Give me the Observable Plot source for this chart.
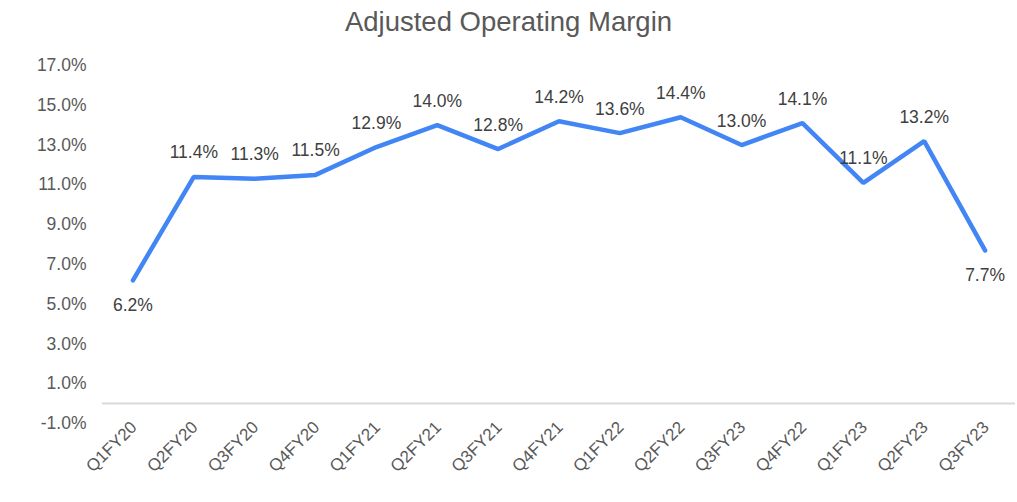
<!DOCTYPE html>
<html>
<head>
<meta charset="utf-8">
<script src="https://cdn.jsdelivr.net/npm/d3@7"></script>
<script src="https://cdn.jsdelivr.net/npm/@observablehq/plot@0.6"></script>
<style>
  body { margin: 0; background: #fff; font-family: "Liberation Sans", Arial, sans-serif; }
  #title { height: 44px; line-height: 44px; text-align: center; font-size: 27.5px; color: #595959; width: 1017px; }
</style>
</head>
<body>
<div id="title">Adjusted Operating Margin</div>
<div id="chart"></div>
<script>
const quarters = ["Q1FY20","Q2FY20","Q3FY20","Q4FY20","Q1FY21","Q2FY21","Q3FY21","Q4FY21","Q1FY22","Q2FY22","Q3FY23","Q4FY22","Q1FY23","Q2FY23","Q3FY23"];
const margins = [6.2, 11.4, 11.3, 11.5, 12.9, 14.0, 12.8, 14.2, 13.6, 14.4, 13.0, 14.1, 11.1, 13.2, 7.7];
const yTicks = [-1, 1, 3, 5, 7, 9, 11, 13, 15, 17];

const data = margins.map((v, i) => ({i, v}));
const fmt = v => v.toFixed(1) + "%";

const chart = Plot.plot({
  width: 1017,
  height: 458,
  marginTop: 21,
  marginBottom: 79,
  marginLeft: 102,
  marginRight: 2,
  style: {fontFamily: "'Liberation Sans', Arial, sans-serif", fontSize: "17px", color: "#595959", background: "#fff"},
  x: {type: "point", domain: d3.range(quarters.length), padding: 0.5, round: false, axis: null, label: null},
  y: {domain: [-1, 17], axis: null, label: null},
  marks: [
    Plot.axisY({ticks: yTicks, tickFormat: fmt, tickSize: 0, tickPadding: 16, fill: "#595959", fontSize: 17.5, label: null}),
    Plot.axisX({tickFormat: i => quarters[i], tickRotate: -45, tickSize: 0, tickPadding: 1, dx: 1, fill: "#595959", fontSize: 17, label: null}),
    Plot.ruleY([0], {stroke: "#d9d9d9", strokeWidth: 2}),
    Plot.line(data, {x: "i", y: "v", stroke: "#4285F4", strokeWidth: 4.5, strokeLinecap: "round", strokeLinejoin: "miter"}),
    Plot.text(data.filter(d => d.v >= 10), {x: "i", y: "v", text: d => fmt(d.v), dy: -24, fill: "#404040", fontSize: 17.5}),
    Plot.text(data.filter(d => d.v < 10), {x: "i", y: "v", text: d => fmt(d.v), dy: 25, fill: "#404040", fontSize: 17.5})
  ]
});
document.getElementById("chart").appendChild(chart);
</script>
</body>
</html>
